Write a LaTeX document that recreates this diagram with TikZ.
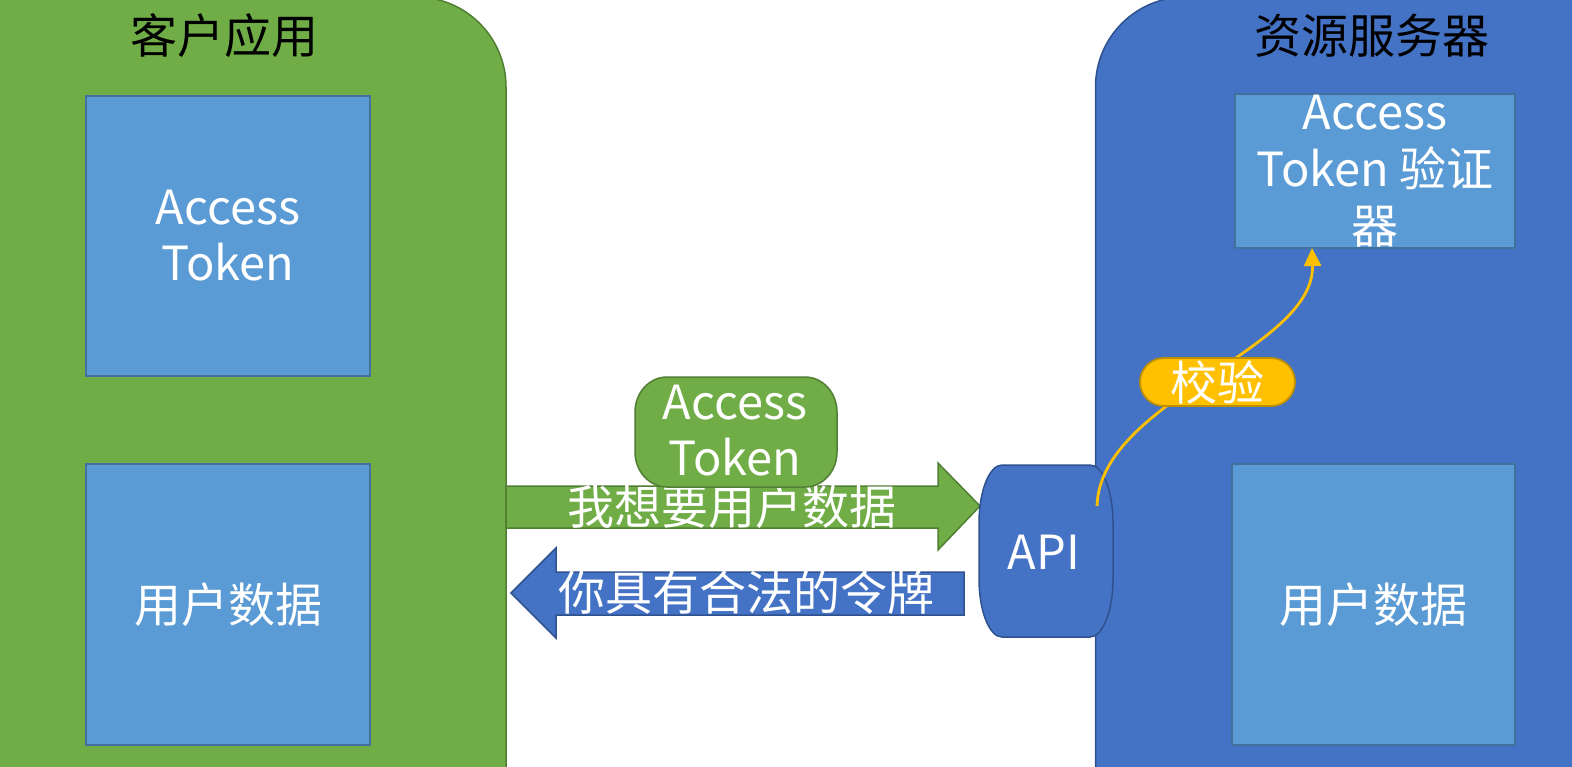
\documentclass[tikz,border=0pt]{standalone}
\usepackage{fontspec}
\setmainfont{Noto Sans CJK SC}
\usetikzlibrary{arrows.meta}
\definecolor{cgreen}{HTML}{70AD47}
\definecolor{cgreenD}{HTML}{507E32}
\definecolor{cblue}{HTML}{4472C4}
\definecolor{cblueD}{HTML}{2F528F}
\definecolor{clight}{HTML}{5B9BD5}
\definecolor{clightD}{HTML}{41719C}
\definecolor{cyel}{HTML}{FFC000}
\definecolor{cyelD}{HTML}{BF9000}
\begin{document}
\begin{tikzpicture}[x=0.5pt,y=0.5pt,
  txt/.style={font=\fontsize{23.5pt}{28pt}\selectfont, align=center, inner sep=0pt},
  wtxt/.style={txt, text=white},
  panel/.style={rectangle, rounded corners=45pt, line width=0.75pt, inner sep=0pt},
  box/.style={rectangle, fill=clight, draw=clightD, line width=0.9pt, inner sep=0pt,
              minimum width=142pt, wtxt},
  arrowshape/.style={line width=0.75pt, line join=miter},
  check/.style={draw=cyel, line width=1.4pt, -{Triangle[length=9pt,width=8.5pt]}}
]
\useasboundingbox (0,0) rectangle (1572,-766);
\clip (0,0) rectangle (1572,-766);

% panels
\node[panel, fill=cgreen, draw=cgreenD, minimum width=303pt, minimum height=452pt] (client) at (203,-449) {};
\node[panel, fill=cblue, draw=cblueD, minimum width=305pt, minimum height=452pt] (server) at (1400.5,-449) {};
\node[txt] (ctitle) at (224,-36) {客户应用};
\node[txt] (stitle) at (1372,-36) {资源服务器};

% client boxes
\node[box, minimum height=140pt] (ctoken) at (228,-236) {Access\\Token};
\node[box, minimum height=140.5pt] (cdata) at (228,-604.5) {用户数据};

% server boxes
\node[box, minimum width=140pt, minimum height=77pt,
      label={[wtxt, font=\fontsize{23.5pt}{28.5pt}\selectfont]center:Access\\Token 验证\\器}] (verifier) at (1375,-171) {};
\node[box, minimum width=141.5pt, minimum height=140.5pt] (sdata) at (1373.5,-604.5) {用户数据};

% request arrow (green, to the right)
\draw[arrowshape, fill=cgreen, draw=cgreenD]
  (506,-486) -- (938,-486) -- (938,-463) -- (980,-506) -- (938,-550) -- (938,-528) -- (506,-528) -- cycle;
\node[wtxt] (req) at (732,-507) {我想要用户数据};

% response arrow (blue, to the left)
\draw[arrowshape, fill=cblue, draw=cblueD]
  (964,-572) -- (556,-572) -- (556,-548) -- (511,-593) -- (556,-638) -- (556,-615) -- (964,-615) -- cycle;
\node[wtxt] (resp) at (746,-593) {你具有合法的令牌};

% access token pill
\draw[fill=cgreen, draw=cgreenD, line width=0.75pt]
  (667,-377) -- (805,-377) arc[start angle=90, end angle=0, x radius=32, y radius=35]
  -- (837,-452) arc[start angle=0, end angle=-90, x radius=32, y radius=35]
  -- (667,-487) arc[start angle=270, end angle=180, x radius=32, y radius=35]
  -- (635,-412) arc[start angle=180, end angle=90, x radius=32, y radius=35] -- cycle;
\node[wtxt] (token) at (735,-431) {Access\\Token};

% API shape
\draw[fill=cblue, draw=cblueD, line width=0.75pt]
  (1002,-465) -- (1090,-465) arc[start angle=90, end angle=0, x radius=23, y radius=58]
  -- (1113,-579) arc[start angle=0, end angle=-90, x radius=23, y radius=58]
  -- (1002,-637) arc[start angle=270, end angle=180, x radius=23, y radius=58]
  -- (979,-523) arc[start angle=180, end angle=90, x radius=23, y radius=58] -- cycle;
\node[wtxt] (api) at (1044,-552) {API};

% check connector
\coordinate (vstart) at (1097,-506);
\coordinate (vend) at (1312,-248);
\draw[check] (vstart) .. controls (1100,-400) and (1315,-350) .. (vend);
\node[rectangle, rounded corners=12pt, fill=cyel, draw=cyelD, line width=0.9pt,
      minimum width=77.5pt, minimum height=24pt, wtxt] (chk) at (1217.5,-382) {校验};
\end{tikzpicture}
\end{document}
